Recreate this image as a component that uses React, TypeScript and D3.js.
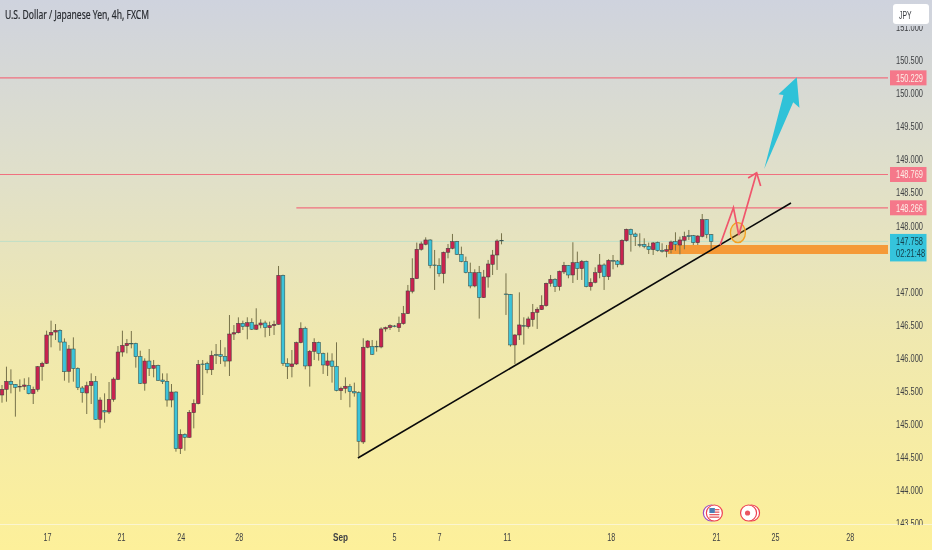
import * as d3 from "d3";
import { useEffect, useRef } from "react";

const width = 932,
  height = 550,
  plotRight = 888,
  plotBottom = 524;

const opens = [
  145.438, 145.523, 145.644, 145.599, 145.559, 145.569, 145.584, 145.458, 145.523, 145.866,
  145.916, 146.344, 146.389, 146.415, 146.238, 145.795, 146.133, 145.841, 145.544, 145.468,
  145.579, 145.644, 145.07, 145.206, 145.181, 145.372, 145.674, 146.087, 146.183, 146.218,
  146.218, 146.017, 145.614, 145.951, 145.841, 145.886, 145.664, 145.644, 145.362, 145.483,
  144.627, 144.844, 144.798, 145.171, 145.307, 145.906, 145.911, 145.82, 146.047, 146.047,
  146.022, 145.951, 146.359, 146.379, 146.521, 146.476, 146.536, 146.431, 146.496, 146.526,
  146.456, 146.486, 146.506, 147.246, 145.917, 145.867, 145.907, 146.229, 146.446, 145.877,
  146.098, 146.234, 146.063, 145.887, 145.952, 145.872, 145.504, 145.539, 145.57, 145.489,
  145.474, 144.729, 146.159, 146.169, 146.174, 146.164, 146.436, 146.456, 146.481, 146.456,
  146.516, 146.667, 147.005, 147.196, 147.639, 147.714, 147.78, 147.402, 147.392, 147.271,
  147.594, 147.654, 147.755, 147.563, 147.453, 147.286, 147.085, 147.286, 146.909, 147.221,
  147.412, 147.553, 147.775, 146.964, 146.959, 146.194, 146.345, 146.486, 146.471, 146.577,
  146.687, 146.728, 146.788, 147.125, 147.186, 147.075, 147.297, 147.397, 147.251, 147.437,
  147.347, 147.458, 147.075, 147.14, 147.286, 147.402, 147.226, 147.468, 147.463, 147.412,
  147.77, 147.941, 147.87, 147.709, 147.714, 147.684, 147.634, 147.745, 147.624, 147.609,
  147.634, 147.755, 147.704, 147.775, 147.845, 147.845, 147.739, 147.835, 148.087, 147.86,
];
const closes = [
  145.523, 145.644, 145.599, 145.554, 145.569, 145.589, 145.458, 145.523, 145.866, 145.916,
  146.344, 146.384, 146.415, 146.238, 145.79, 146.133, 145.836, 145.549, 145.473, 145.579,
  145.644, 145.07, 145.362, 145.181, 145.372, 145.679, 146.087, 146.188, 146.218, 146.213,
  146.017, 145.614, 145.951, 145.841, 145.886, 145.659, 145.639, 145.362, 145.483, 144.627,
  144.844, 144.798, 145.176, 145.312, 145.901, 145.901, 145.82, 146.037, 146.042, 146.022,
  145.951, 146.359, 146.379, 146.52, 146.471, 146.531, 146.431, 146.496, 146.526, 146.456,
  146.486, 146.506, 147.246, 145.917, 145.867, 145.907, 146.229, 146.446, 145.877, 146.098,
  146.234, 146.068, 145.892, 145.952, 145.872, 145.504, 145.539, 145.57, 145.489, 145.469,
  144.739, 146.159, 146.254, 146.053, 146.164, 146.436, 146.456, 146.486, 146.471, 146.516,
  146.667, 147.01, 147.201, 147.639, 147.72, 147.78, 147.397, 147.392, 147.271, 147.594,
  147.654, 147.755, 147.563, 147.453, 147.287, 147.085, 147.286, 146.909, 147.221, 147.417,
  147.553, 147.765, 147.77, 146.959, 146.194, 146.345, 146.496, 146.481, 146.587, 146.687,
  146.733, 146.793, 147.125, 147.186, 147.075, 147.307, 147.397, 147.251, 147.437, 147.347,
  147.458, 147.075, 147.14, 147.286, 147.402, 147.226, 147.473, 147.463, 147.412, 147.775,
  147.941, 147.86, 147.83, 147.704, 147.684, 147.634, 147.735, 147.619, 147.609, 147.634,
  147.75, 147.714, 147.78, 147.83, 147.83, 147.739, 147.84, 148.087, 147.86, 147.758,
];
const highs = [
  145.589, 145.866, 145.826, 145.604, 145.674, 145.69, 145.705, 145.564, 145.876, 145.941,
  146.41, 146.561, 146.51, 146.43, 146.294, 146.193, 146.309, 145.856, 145.574, 145.639,
  145.765, 145.725, 145.403, 145.463, 145.634, 145.705, 146.178, 146.41, 146.284, 146.405,
  146.228, 146.107, 145.992, 146.133, 145.967, 145.896, 145.765, 145.765, 145.604, 145.493,
  144.919, 144.859, 145.211, 145.372, 145.967, 145.967, 145.941, 146.107, 146.208, 146.269,
  146.158, 146.646, 146.495, 146.611, 146.561, 146.612, 146.597, 146.748, 146.582, 146.561,
  146.546, 146.561, 147.387, 147.256, 145.993, 146.118, 146.244, 146.536, 146.471, 146.118,
  146.295, 146.244, 146.078, 146.078, 146.068, 146.234, 145.565, 145.705, 145.605, 145.625,
  145.494, 146.295, 146.269, 146.269, 146.259, 146.461, 146.471, 146.506, 146.496, 146.622,
  146.783, 147.1, 147.503, 147.74, 147.755, 147.82, 147.79, 147.629, 147.503, 147.604,
  147.719, 147.871, 147.765, 147.679, 147.528, 147.437, 147.337, 147.387, 147.327, 147.478,
  147.629, 147.79, 147.881, 147.276, 146.964, 146.355, 146.989, 146.612, 146.622, 146.813,
  146.763, 146.944, 147.135, 147.251, 147.201, 147.317, 147.448, 147.402, 147.745, 147.604,
  147.478, 147.468, 147.201, 147.367, 147.568, 147.427, 147.488, 147.553, 147.478, 147.79,
  147.951, 147.951, 147.891, 147.881, 147.805, 147.74, 147.75, 147.755, 147.729, 147.704,
  147.77, 147.896, 147.83, 147.905, 147.931, 147.855, 147.85, 148.172, 148.092, 147.87,
];
const lows = [
  145.322, 145.337, 145.463, 145.111, 145.488, 145.513, 145.448, 145.302, 145.488, 145.654,
  145.906, 146.158, 146.269, 146.107, 145.654, 145.624, 145.639, 145.513, 145.322, 145.151,
  145.302, 145.06, 144.934, 145.02, 145.151, 145.337, 145.664, 146.017, 146.067, 146.143,
  145.851, 145.604, 145.503, 145.725, 145.705, 145.654, 145.604, 145.262, 145.252, 144.582,
  144.547, 144.597, 144.793, 144.934, 145.297, 145.438, 145.765, 145.74, 145.906, 145.906,
  145.866, 145.725, 146.269, 146.369, 146.42, 146.279, 146.42, 146.42, 146.446, 146.31,
  146.33, 146.345, 146.501, 145.877, 145.68, 145.705, 145.892, 146.219, 145.826, 145.565,
  145.967, 145.957, 145.756, 145.726, 145.625, 145.494, 145.363, 145.464, 145.252, 145.413,
  144.507, 144.699, 146.144, 146.043, 146.093, 146.144, 146.395, 146.42, 146.461, 146.39,
  146.501, 146.662, 146.974, 147.191, 147.619, 147.699, 147.352, 147.025, 147.226, 147.125,
  147.503, 147.639, 147.553, 147.443, 147.276, 147.05, 147.065, 146.592, 146.904, 147.06,
  147.251, 147.327, 147.714, 146.647, 146.169, 145.907, 146.269, 146.199, 146.441, 146.471,
  146.436, 146.723, 146.773, 147.075, 146.994, 147.015, 147.266, 147.201, 147.13, 147.176,
  147.176, 147.065, 147.015, 147.125, 147.201, 147.025, 147.176, 147.337, 147.367, 147.397,
  147.755, 147.604, 147.689, 147.669, 147.654, 147.568, 147.553, 147.604, 147.589, 147.518,
  147.578, 147.619, 147.563, 147.639, 147.78, 147.704, 147.704, 147.82, 147.805, 147.639,
];

// 147.500 sits behind the last price label in the picture, so it is left out
const priceTicks = [143.5, 144, 144.5, 145, 145.5, 146, 146.5, 147, 148, 148.5, 149, 149.5, 150, 150.5, 151];
const timeLabels = ["17", "21", "24", "28", "Sep", "5", "7", "11", "18", "21", "25", "28"];
const timeBars = [10.1, 26.7, 40.1, 53.1, 75.8, 87.9, 98, 113.2, 136.5, 160.1, 173.3, 190.1];

// horizontal levels: price and the bar where the line starts
const levelPrices = [150.229, 148.769, 148.266];
const levelStarts = [-1, -1, 66];
const lastPrice = 147.758;
const lastCountdown = "02:21:48";

// drawings, as [bar, price]
const trendLine: [number, number][] = [[79.8, 144.486], [176.9, 148.338]];
const bandBar = 149.3;
const bandPrices = [147.704, 147.568];
const redPath: [number, number][] = [[161, 147.704], [164, 148.267], [165.2, 147.855], [169.2, 148.796]];
const redHead: [number, number][] = [[167.3, 148.716], [169.2, 148.796], [170.1, 148.595]];
const circlePoint = [165, 147.89];
const bigArrow: [number, number][] = [
  [178.2, 150.237], [178.8, 149.778], [177.4, 149.86], [170.9, 148.852], [175.2, 149.97], [174.1, 149.98],
];

const font = "'Liberation Sans', sans-serif";
const upColor = "#c8234f";
const downColor = "#3cc3d9";
const levelColor = "#f0707f";
const squeeze = "scale(0.65,1)"; // the labels are squeezed in the picture

export default function App() {
  const ref = useRef<HTMLDivElement | null>(null);

  useEffect(() => {
    if (!ref.current) return;
    if (ref.current.hasChildNodes()) return;

    const x = d3.scaleLinear([0, 100], [2, 448]);
    const y = d3.scaleLinear([143.5, 151], [523.3, 26.8]);
    const line = d3
      .line<[number, number]>()
      .x((d) => x(d[0]))
      .y((d) => y(d[1]));

    const svg = d3
      .select(ref.current)
      .append("svg")
      .attr("width", width)
      .attr("height", height)
      .attr("viewBox", [0, 0, width, height])
      .style("display", "block")
      .style("filter", "blur(0.3px)")
      .style("font-family", font);

    const defs = svg.append("defs");
    const grad = defs
      .append("linearGradient")
      .attr("id", "bg")
      .attr("x1", 0)
      .attr("x2", 0)
      .attr("y1", 0)
      .attr("y2", 1);
    grad.append("stop").attr("offset", "0%").attr("stop-color", "#cfd3de");
    grad.append("stop").attr("offset", "30%").attr("stop-color", "#dfdfcb");
    grad.append("stop").attr("offset", "60%").attr("stop-color", "#efe8b0");
    grad.append("stop").attr("offset", "100%").attr("stop-color", "#fdf09a");
    defs
      .append("clipPath")
      .attr("id", "axisClip")
      .append("rect")
      .attr("x", plotRight)
      .attr("y", 26)
      .attr("width", 44)
      .attr("height", plotBottom + 1 - 26);

    svg.append("rect").attr("width", width).attr("height", height).attr("fill", "url(#bg)");

    // time axis separator
    svg
      .append("line")
      .attr("x1", 0)
      .attr("x2", width)
      .attr("y1", plotBottom + 0.5)
      .attr("y2", plotBottom + 0.5)
      .attr("stroke", "#fbf5d0");

    // last price line
    svg
      .append("line")
      .attr("x1", 0)
      .attr("x2", plotRight)
      .attr("y1", y(lastPrice))
      .attr("y2", y(lastPrice))
      .attr("stroke", "#a9dccb")
      .attr("stroke-opacity", 0.6);

    // orange band goes under the candles
    svg
      .append("rect")
      .attr("x", x(bandBar))
      .attr("y", y(bandPrices[0]))
      .attr("width", plotRight - x(bandBar))
      .attr("height", y(bandPrices[1]) - y(bandPrices[0]))
      .attr("fill", "#f59a38");

    // candles
    const bars = d3.range(opens.length);
    const g = svg.append("g");
    g.selectAll("line")
      .data(bars)
      .join("line")
      .attr("x1", (i) => x(i))
      .attr("x2", (i) => x(i))
      .attr("y1", (i) => y(highs[i]))
      .attr("y2", (i) => y(lows[i]))
      .attr("stroke", "#77724a")
      .attr("stroke-width", 1);
    g.selectAll("rect")
      .data(bars)
      .join("rect")
      .attr("x", (i) => x(i) - 1.8)
      .attr("width", 3.6)
      .attr("y", (i) => y(Math.max(opens[i], closes[i])))
      .attr("height", (i) => Math.max(0.6, Math.abs(y(opens[i]) - y(closes[i]))))
      .attr("fill", (i) => (closes[i] >= opens[i] ? upColor : downColor))
      .attr("stroke", "#2d3b3a")
      .attr("stroke-opacity", 0.8)
      .attr("stroke-width", 0.6);

    // level lines
    svg
      .append("g")
      .selectAll("line")
      .data(levelPrices)
      .join("line")
      .attr("x1", (_, i) => Math.max(0, x(levelStarts[i])))
      .attr("x2", plotRight)
      .attr("y1", (d) => y(d))
      .attr("y2", (d) => y(d))
      .attr("stroke", levelColor)
      .attr("stroke-width", 1.2);

    // trend line, arrows, circle
    svg
      .append("path")
      .attr("d", line(trendLine))
      .attr("stroke", "#0a0a0a")
      .attr("stroke-width", 1.6)
      .attr("fill", "none");
    svg
      .append("ellipse")
      .attr("cx", x(circlePoint[0]))
      .attr("cy", y(circlePoint[1]))
      .attr("rx", 7.5)
      .attr("ry", 10)
      .attr("fill", "#f5a623")
      .attr("fill-opacity", 0.25)
      .attr("stroke", "#f5a020")
      .attr("stroke-width", 1.3);
    svg
      .selectAll(".red")
      .data([redPath, redHead])
      .join("path")
      .attr("class", "red")
      .attr("d", (d) => line(d))
      .attr("fill", "none")
      .attr("stroke", "#f0566c")
      .attr("stroke-width", 1.7);
    svg
      .append("path")
      .attr("d", line(bigArrow) + "Z")
      .attr("fill", "#2fc2d8");

    // price axis, the clip cuts the top and bottom labels as in the picture
    svg
      .append("g")
      .attr("clip-path", "url(#axisClip)")
      .append("g")
      .attr("transform", `translate(${plotRight},0)`)
      .call(
        d3
          .axisRight(y)
          .tickValues(priceTicks)
          .tickFormat(d3.format(".3f") as any)
          .tickSize(0)
      )
      .call((a) => a.select(".domain").remove())
      .call((a) =>
        a
          .selectAll("text")
          .attr("x", 0)
          .attr("transform", `translate(8,0) ${squeeze}`)
          .attr("fill", "#3f4144")
          .attr("font-size", 11.5)
          .attr("font-family", font)
      );

    // price labels
    const labels = svg.append("g");
    const labelText = (py: number, fill: string, s: string) =>
      labels
        .append("text")
        .attr("transform", `translate(896,${py}) ${squeeze}`)
        .attr("fill", fill)
        .attr("font-size", 11.5)
        .text(s);
    levelPrices.forEach((p) => {
      labels
        .append("rect")
        .attr("x", 890)
        .attr("y", y(p) - 7.5)
        .attr("width", 36.5)
        .attr("height", 15)
        .attr("fill", "#f5788a");
      labelText(y(p) + 4, "#fdeee6", d3.format(".3f")(p));
    });
    labels
      .append("rect")
      .attr("x", 890)
      .attr("y", y(lastPrice) - 7.5)
      .attr("width", 36.5)
      .attr("height", 27.5)
      .attr("fill", "#35c4dc");
    labelText(y(lastPrice) + 4, "#14404c", d3.format(".3f")(lastPrice));
    labelText(y(lastPrice) + 16, "#14404c", lastCountdown);

    // currency button
    svg
      .append("rect")
      .attr("x", 893)
      .attr("y", 4)
      .attr("width", 36)
      .attr("height", 20)
      .attr("rx", 3)
      .attr("fill", "#ffffff");
    svg
      .append("text")
      .attr("x", 899)
      .attr("y", 18.5)
      .attr("fill", "#3a3d42")
      .attr("font-size", 11.5)
      .attr("textLength", 12.5)
      .attr("lengthAdjust", "spacingAndGlyphs")
      .text("JPY");

    // time axis
    svg
      .append("g")
      .attr("transform", `translate(0,${plotBottom})`)
      .call(
        d3
          .axisBottom(x)
          .tickValues(timeBars)
          .tickFormat((_, i) => timeLabels[i])
          .tickSize(0)
          .tickPadding(9)
      )
      .call((a) => a.select(".domain").remove())
      .call((a) =>
        a
          .selectAll("text")
          .attr("fill", "#3f4144")
          .attr("font-size", 11.5)
          .attr("font-family", font)
          .attr("font-weight", (_, i) => (timeLabels[i] === "Sep" ? "bold" : "normal"))
          .attr("textLength", (_, i) => (timeLabels[i] === "Sep" ? 15 : timeLabels[i].length * 4))
          .attr("lengthAdjust", "spacingAndGlyphs")
      );

    // title
    svg
      .append("text")
      .attr("x", 5)
      .attr("y", 19)
      .attr("fill", "#26292e")
      .attr("font-size", 12.5)
      .attr("font-family", "'Noto Sans', sans-serif")
      .attr("stroke", "#26292e")
      .attr("stroke-width", 0.2)
      .attr("textLength", 144)
      .attr("lengthAdjust", "spacingAndGlyphs")
      .text("U.S. Dollar / Japanese Yen, 4h, FXCM");

    // economic calendar markers
    const usd = svg.append("g").attr("transform", `translate(${x(159.5)},513)`);
    usd.append("circle").attr("cx", -2).attr("r", 8).attr("fill", "#fff").attr("stroke", "#9c4fc0").attr("stroke-width", 1.2);
    usd.append("circle").attr("cx", 1).attr("r", 8).attr("fill", "#fff").attr("stroke", "#ee4050").attr("stroke-width", 1.2);
    usd.append("rect").attr("x", -4).attr("y", -5).attr("width", 5.5).attr("height", 5).attr("fill", "#4a7fb5");
    [-4, -1.5, 1, 3.5].forEach((dy) =>
      usd.append("rect").attr("x", dy < 0 ? 1.5 : -4).attr("y", dy).attr("width", dy < 0 ? 4.5 : 10).attr("height", 1.3).attr("fill", "#e85a60")
    );
    const jpy = svg.append("g").attr("transform", `translate(${x(167.5)},513)`);
    jpy.append("circle").attr("cx", 2.5).attr("r", 8).attr("fill", "#fff").attr("stroke", "#ee4050").attr("stroke-width", 1.2);
    jpy.append("circle").attr("cx", -0.5).attr("r", 8).attr("fill", "#fff").attr("stroke", "#ee4050").attr("stroke-width", 1.2);
    jpy.append("circle").attr("cx", -1.5).attr("r", 2.6).attr("fill", "#ea5560");
  }, [ref]);

  return <div ref={ref} style={{ position: "absolute", left: 0, top: 0 }}></div>;
}
